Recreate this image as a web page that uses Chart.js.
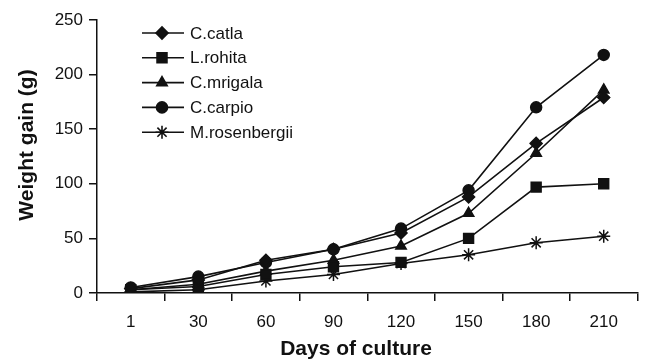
<!DOCTYPE html>
<html>
<head>
<meta charset="utf-8">
<script src="https://cdn.jsdelivr.net/npm/chart.js@4.4.1/dist/chart.umd.min.js"></script>
<style>
  html, body { margin: 0; padding: 0; background: #fff; }
  #wrap { width: 646px; height: 360px; }
</style>
</head>
<body>
<div id="wrap"><canvas id="c" width="646" height="360"></canvas></div>
<script>
// Weight gain of five species over days of culture

const days = ['1', '30', '60', '90', '120', '150', '180', '210'];
const catla = [4, 12, 30, 40, 55, 88, 137, 179];
const rohita = [3, 6, 17, 24, 28, 50, 97, 100];
const mrigala = [3, 8, 20, 30, 43, 73, 128, 186];
const carpio = [5, 15, 28, 40, 59, 94, 170, 218];
const rosenbergii = [1, 3, 11, 17, 27, 35, 46, 52];
const yTicks = [0, 50, 100, 150, 200, 250];
const xTitle = 'Days of culture';
const yTitle = 'Weight gain (g)';

const INK = '#111';
const FONT = '"Liberation Sans", Arial, sans-serif';

function series(label, data, style, radius) {
  return {
    label, data,
    borderColor: INK, backgroundColor: INK,
    borderWidth: 1.6,
    pointStyle: style, pointRadius: radius,
    pointBorderColor: INK, pointBackgroundColor: INK,
    pointBorderWidth: 1.5,
    tension: 0,
  };
}

// legend rows (line through marker) plus the two axis titles, which sit
// a little off the plot centre in the original
const decorations = {
  id: 'decorations',
  afterDraw(chart) {
    const ctx = chart.ctx;
    ctx.save();
    chart.data.datasets.forEach((ds, i) => {
      const y = 33 + i * 24.8;
      ctx.strokeStyle = INK;
      ctx.lineWidth = 1.6;
      ctx.beginPath();
      ctx.moveTo(142, y);
      ctx.lineTo(184, y);
      ctx.stroke();
      ctx.fillStyle = INK;
      Chart.helpers.drawPoint(ctx, {
        pointStyle: ds.pointStyle, radius: ds.pointRadius, rotation: 0, borderWidth: 1.5,
      }, 162, y);
      ctx.font = '17px ' + FONT;
      ctx.textAlign = 'left';
      ctx.textBaseline = 'middle';
      ctx.fillText(ds.label, 190, y + 1);
    });

    ctx.fillStyle = INK;
    ctx.font = 'bold 21px ' + FONT;
    ctx.textAlign = 'center';
    ctx.textBaseline = 'alphabetic';
    ctx.fillText(xTitle, 356, 355);

    ctx.translate(33, 145);
    ctx.rotate(-Math.PI / 2);
    ctx.fillText(yTitle, 0, 0);
    ctx.restore();
  },
};

new Chart(document.getElementById('c'), {
  type: 'line',
  data: {
    labels: days,
    datasets: [
      series('C.catla', catla, 'rectRot', 6),
      series('L.rohita', rohita, 'rect', 7),
      series('C.mrigala', mrigala, 'triangle', 6),
      series('C.carpio', carpio, 'circle', 5.5),
      series('M.rosenbergii', rosenbergii, 'star', 6.5),
    ],
  },
  options: {
    responsive: false,
    animation: false,
    devicePixelRatio: 1,
    layout: { padding: { left: 0, right: 5, top: 20, bottom: 0 } },
    plugins: { legend: { display: false }, tooltip: { enabled: false } },
    scales: {
      x: {
        offset: true,
        grid: { offset: true, drawOnChartArea: false, drawTicks: true, tickLength: 8, color: INK, lineWidth: 1.5 },
        border: { color: INK, width: 1.5 },
        ticks: { color: INK, font: { family: FONT, size: 17 }, padding: 11, maxRotation: 0 },
        afterFit(scale) { scale.height = 67; },
      },
      y: {
        min: 0, max: 250,
        afterBuildTicks(scale) { scale.ticks = yTicks.map((v) => ({ value: v })); },
        grid: { drawOnChartArea: false, drawTicks: true, tickLength: 8, color: INK, lineWidth: 1.5 },
        border: { color: INK, width: 1.5 },
        ticks: { color: INK, font: { family: FONT, size: 17 }, padding: 6 },
        afterFit(scale) { scale.width = 97; },
      },
    },
  },
  plugins: [decorations],
});
</script>
</body>
</html>
